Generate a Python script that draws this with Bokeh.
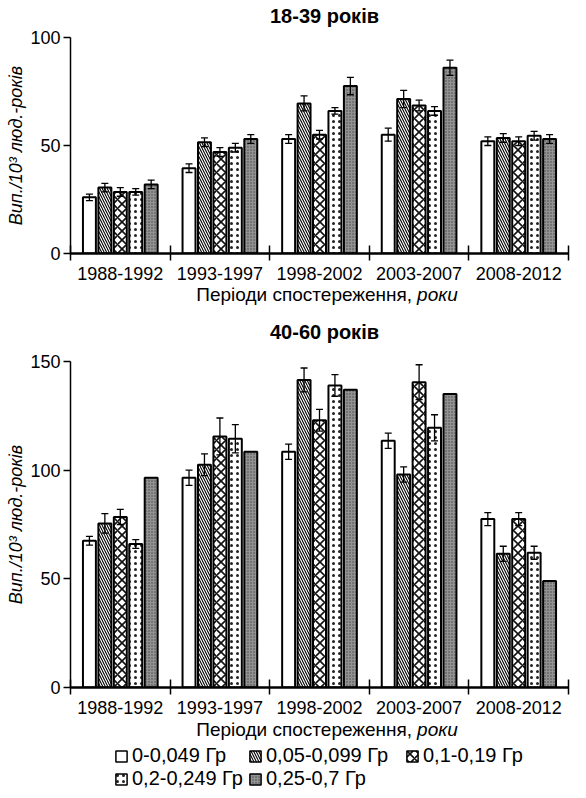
from bokeh.plotting import figure
from bokeh.models import Range1d, FixedTicker, Whisker, TeeHead, ColumnDataSource, Label, Legend, LegendItem
from bokeh.transform import dodge
from bokeh.layouts import column
from bokeh.embed import file_html
from bokeh.resources import INLINE

FONT = "Liberation Sans"

periods = ["1988-1992", "1993-1997", "1998-2002", "2003-2007", "2008-2012"]
doses = ["0-0,049 Гр", "0,05-0,099 Гр", "0,1-0,19 Гр", "0,2-0,249 Гр", "0,25-0,7 Гр"]
titles = ["18-39 років", "40-60 років"]

# 18-39 years: values per dose group across periods
young_d1 = [26, 39.5, 53, 55, 52]
young_d2 = [30.5, 51.5, 69.5, 71.5, 53.5]
young_d3 = [28.5, 47, 55, 68.5, 52]
young_d4 = [28.5, 49, 66, 66, 54.5]
young_d5 = [32, 53, 77.5, 86, 53]
young_e1 = [1.5, 2, 2, 3, 2]
young_e2 = [2, 2, 3.5, 4, 2]
young_e3 = [2, 2, 2, 2.5, 2]
young_e4 = [1.5, 2, 1.5, 2, 2]
young_e5 = [2, 2, 4, 3.5, 2]

# 40-60 years
old_d1 = [67.5, 96.5, 108.5, 113.5, 77.5]
old_d2 = [75.5, 102.5, 141.5, 98, 61.5]
old_d3 = [78.5, 115.5, 123, 140.5, 77.5]
old_d4 = [66, 114.5, 139, 119.5, 62]
old_d5 = [96.5, 108.5, 137, 135, 49]
old_e1 = [2, 3.5, 3.5, 3.5, 3]
old_e2 = [4.5, 5, 5.5, 3.5, 3.5]
old_e3 = [3.5, 8.5, 5, 8, 3]
old_e4 = [2, 6.5, 5, 6, 3]
old_e5 = None

young_ticks = [0, 50, 100]
old_ticks = [0, 50, 100, 150]

offsets = [-0.31, -0.155, 0.0, 0.155, 0.31]
BAR_W = 0.13
N = len(periods)
centers = list(range(N))

styles = [
    dict(fill_color="white"),
    dict(fill_color="white", hatch_pattern="\\", hatch_scale=5, hatch_weight=1.1, hatch_color="black"),
    dict(fill_color="white", hatch_pattern="x", hatch_scale=9, hatch_weight=1.6, hatch_color="#111111"),
    dict(fill_color="white", hatch_pattern=".", hatch_scale=6, hatch_weight=1.5, hatch_color="#222222"),
    dict(fill_color="#939393", hatch_pattern=".", hatch_scale=3, hatch_weight=1, hatch_color="#444444"),
]

LEFT = 70
RIGHT = 2


def make_chart(vals, errs, ymax, ticks, height, top, bottom):
    p = figure(width=570, height=height, x_range=Range1d(-0.5, N - 0.5), y_range=Range1d(0, ymax),
               output_backend="svg", toolbar_location=None,
               min_border_left=LEFT, min_border_right=RIGHT, min_border_top=top, min_border_bottom=bottom)
    p.outline_line_color = None
    p.xgrid.visible = False
    p.ygrid.visible = False

    for k in range(5):
        src = ColumnDataSource(dict(x=centers, top=vals[k]))
        p.vbar(x=dodge("x", offsets[k]), top="top", bottom=0, width=BAR_W, source=src,
               line_color="black", line_width=2, **styles[k])
        if errs[k] is not None:
            esrc = ColumnDataSource(dict(
                x=centers,
                upper=[v + e for v, e in zip(vals[k], errs[k])],
                lower=[v - e for v, e in zip(vals[k], errs[k])]))
            w = Whisker(base=dodge("x", offsets[k]), upper="upper", lower="lower", source=esrc,
                        line_color="black", line_width=1.3, level="overlay",
                        upper_head=TeeHead(size=7, line_width=1.3, line_color="black"),
                        lower_head=TeeHead(size=7, line_width=1.3, line_color="black"))
            p.add_layout(w)

    xa = p.xaxis[0]
    xa.ticker = FixedTicker(ticks=centers, minor_ticks=[c - 0.5 for c in centers] + [N - 0.5])
    xa.major_label_overrides = {c: lab for c, lab in zip(centers, periods)}
    xa.major_tick_in = 0
    xa.major_tick_out = 0
    xa.minor_tick_in = 8
    xa.minor_tick_out = 7
    xa.minor_tick_line_width = 1.5
    xa.minor_tick_line_color = "black"
    xa.axis_line_width = 2.5
    xa.axis_line_color = "black"
    xa.major_label_standoff = 6
    xa.major_label_text_font = FONT
    xa.major_label_text_font_size = "18px"
    xa.major_label_text_color = "black"

    ya = p.yaxis[0]
    ya.ticker = FixedTicker(ticks=ticks)
    ya.major_tick_in = 0
    ya.major_tick_out = 7
    ya.minor_tick_in = 0
    ya.minor_tick_out = 0
    ya.major_tick_line_width = 1.3
    ya.axis_line_width = 1.5
    ya.axis_line_color = "black"
    ya.major_label_standoff = 3
    ya.major_label_text_font = FONT
    ya.major_label_text_font_size = "18px"
    ya.major_label_text_color = "black"
    ya.axis_label = "Вип./10³ люд.-років"
    ya.axis_label_text_font = FONT
    ya.axis_label_text_font_size = "18px"
    ya.axis_label_text_font_style = "italic"
    ya.axis_label_text_color = "black"
    ya.axis_label_standoff = 1
    return p


def text_panel(height):
    t = figure(width=570, height=height, x_range=Range1d(-0.5, N - 0.5), y_range=Range1d(0, height),
               output_backend="svg", toolbar_location=None,
               min_border_left=LEFT, min_border_right=RIGHT, min_border_top=0, min_border_bottom=0,
               x_axis_location=None, y_axis_location=None)
    t.outline_line_color = None
    t.xgrid.visible = False
    t.ygrid.visible = False
    return t


def add_title(t, text, y):
    t.add_layout(Label(x=2.05, y=y, text=text, text_align="center", text_baseline="middle",
                       text_font=FONT, text_font_size="20px", text_font_style="bold", text_color="black"))


def add_xlabel(t, y):
    t.add_layout(Label(x=2.93, y=y, text="Періоди спостереження,", text_align="right",
                       text_baseline="middle", text_font=FONT, text_font_size="19px", text_color="black"))
    t.add_layout(Label(x=2.98, y=y, text="роки", text_align="left", text_font_style="italic",
                       text_baseline="middle", text_font=FONT, text_font_size="19px", text_color="black"))


tt = text_panel(28)
add_title(tt, titles[0], 13)

p1 = make_chart([young_d1, young_d2, young_d3, young_d4, young_d5],
                [young_e1, young_e2, young_e3, young_e4, young_e5],
                100, young_ticks, 254, 9, 27)

t1 = text_panel(68)
add_xlabel(t1, 56)
add_title(t1, titles[1], 19)

p2 = make_chart([old_d1, old_d2, old_d3, old_d4, old_d5],
                [old_e1, old_e2, old_e3, old_e4, old_e5],
                150, old_ticks, 367, 11, 30)

PL_H = 73
pl = text_panel(PL_H)
add_xlabel(pl, PL_H - 12)
old_vals = [old_d1, old_d2, old_d3, old_d4, old_d5]
items = []
for k in range(5):
    src = ColumnDataSource(dict(x=centers, top=old_vals[k]))
    r = pl.vbar(x="x", top="top", width=0.1, source=src, line_color="black", line_width=1.5,
                visible=False, **styles[k])
    items.append(LegendItem(label=doses[k], renderers=[r]))

leg_style = dict(orientation="horizontal", label_text_font=FONT, label_text_font_size="20px",
                 label_text_color="black", glyph_width=14, glyph_height=14, label_standoff=4,
                 padding=0, margin=0, border_line_color=None, background_fill_alpha=0)
# legend grid: three entries in the first row, two in the second
leg_pos = [(44, 23), (178, 23), (335, 23), (44, 0), (178, 0)]
for item, pos in zip(items, leg_pos):
    pl.add_layout(Legend(items=[item], location=pos, **leg_style))

layout = column(tt, p1, t1, p2, pl)
open("out.html", "w").write(file_html(layout, INLINE))
